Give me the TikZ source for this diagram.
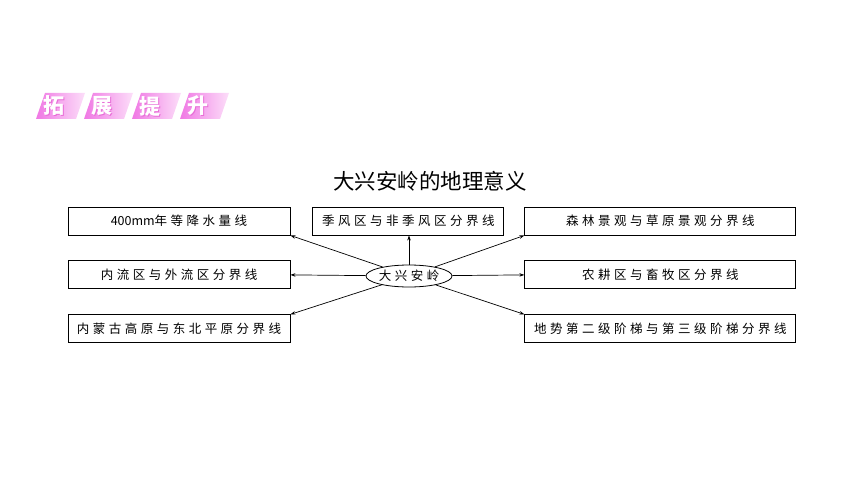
\documentclass[tikz,border=0pt]{standalone}
\usepackage{fontspec}
\newfontfamily\cjk{Noto Sans CJK SC}
\newfontfamily\boxfont[LetterSpace=28]{Noto Sans CJK SC}
\usetikzlibrary{arrows.meta,positioning,shapes.geometric}
\definecolor{tilel}{RGB}{240,120,228}
\definecolor{tiler}{RGB}{252,222,249}
\definecolor{tiledk}{RGB}{232,110,215}
\begin{document}
\begin{tikzpicture}[x=1pt,y=-1pt,node distance=25pt and 21pt,
  box/.style={draw,line width=0.9pt,minimum height=28pt,inner sep=0pt,font=\boxfont\fontsize{12.5}{13}\selectfont},
  core/.style={ellipse,draw,line width=0.8pt,minimum width=86pt,minimum height=22pt,inner sep=0pt,font=\boxfont\fontsize{12.5}{13}\selectfont},
  tile/.style={left color=tilel,right color=tiler},
  tiletext/.style={font=\cjk\bfseries\fontsize{21}{21}\selectfont},
  arr/.style={-{Stealth[length=5pt,width=3.5pt]},line width=0.7pt}]
\useasboundingbox (0,0) rectangle (860,484);
% banner
\foreach \ch [count=\i from 0] in {拓,展,提,升}{
  \shade[tile] (36+48*\i,119) -- ++(40,0) -- ++(9,-26) -- ++(-40,0) -- cycle;
  \node[tiletext,text=tiledk] (s\i) at (55+48*\i,107) {\ch};
  \node[tiletext,text=white] (t\i) at (54+48*\i,106) {\ch};
}
% title
\node[font=\cjk\fontsize{21.5}{22}\selectfont] (title) at (430,181) {大兴安岭的地理意义};
% boxes
\node[box,minimum width=222pt] (rain) at (179,221) {{\cjk 400mm}年等降水量线};
\node[box,minimum width=222pt,below=of rain] (flow) {内流区与外流区分界线};
\node[box,minimum width=222pt,below=of flow] (plain) {内蒙古高原与东北平原分界线};
\node[box,minimum width=191pt,right=22pt of rain] (mons) {季风区与非季风区分界线};
\node[box,minimum width=271pt,right=20pt of mons] (forest) {森林景观与草原景观分界线};
\node[box,minimum width=271pt,below=of forest] (farm) {农耕区与畜牧区分界线};
\node[box,minimum width=271pt,below=of farm] (step2) {地势第二级阶梯与第三级阶梯分界线};
\node[core] (dxal) at (409,276) {大兴安岭};
% arrows
\draw[arr] (dxal) -- (rain.south east);
\draw[arr] (dxal) -- (flow.east);
\draw[arr] (dxal) -- (plain.north east);
\draw[arr] (dxal) -- (dxal|-mons.south);
\draw[arr] (dxal) -- (forest.south west);
\draw[arr] (dxal) -- (farm.west);
\draw[arr] (dxal) -- (step2.north west);
\end{tikzpicture}
\end{document}
